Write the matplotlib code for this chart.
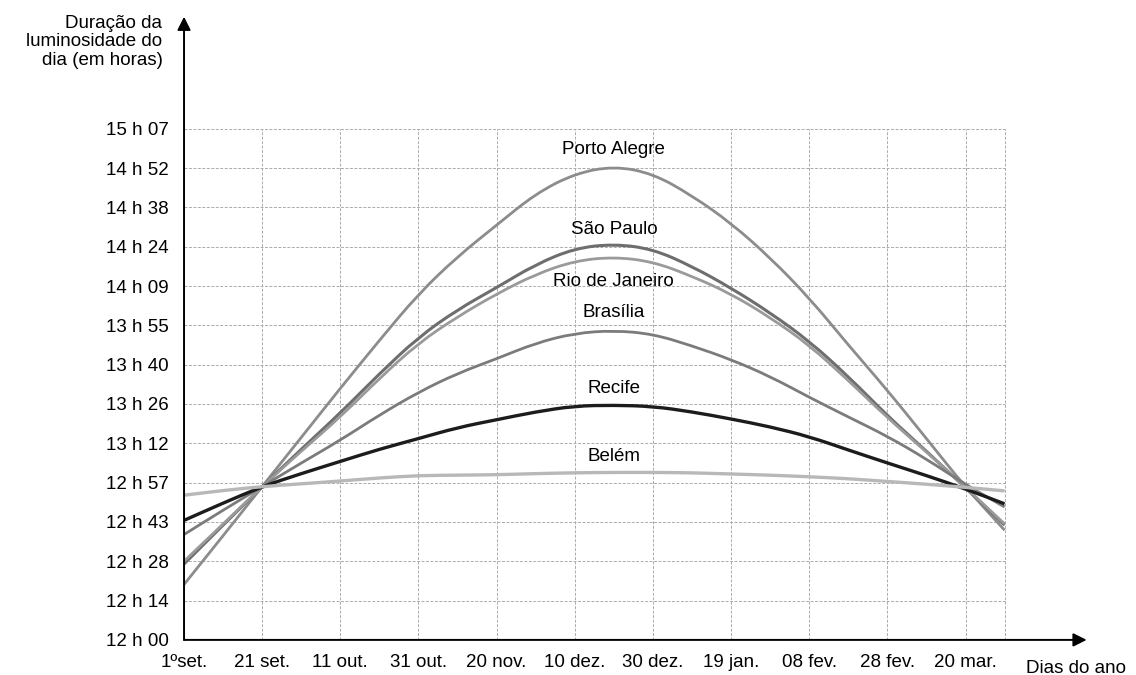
import matplotlib
matplotlib.use("Agg")
import matplotlib.pyplot as plt
from matplotlib.path import Path
from matplotlib.patches import PathPatch

plt.rcParams["font.family"] = ["Liberation Sans", "DejaVu Sans"]

# ── data (x: steps of 20 days from 1 set.; y: steps of the y grid) ───
x_days = [0, 0.5, 1, 1.5, 2, 2.5, 3, 3.5, 4, 4.5, 5, 5.5, 6, 6.5, 7, 7.5,
          8, 8.5, 9, 9.5, 10, 10.5]

porto_alegre = [1.41, 2.65, 3.9, 5.15, 6.4, 7.62, 8.8, 9.75, 10.55, 11.35,
                11.86, 12.05, 11.86, 11.3, 10.6, 9.72, 8.7, 7.5, 6.35, 5.12,
                3.88, 2.79]
sao_paulo = [1.93, 2.92, 3.9, 4.85, 5.77, 6.77, 7.7, 8.4, 8.96, 9.55,
             9.96, 10.07, 9.94, 9.5, 8.95, 8.32, 7.6, 6.7, 5.7, 4.8,
             3.87, 2.92]
rio_janeiro = [2.0, 2.95, 3.9, 4.8, 5.67, 6.65, 7.55, 8.22, 8.8, 9.3,
               9.64, 9.74, 9.62, 9.25, 8.8, 8.2, 7.5, 6.6, 5.65, 4.78,
               3.88, 2.95]
brasilia = [2.68, 3.3, 3.9, 4.5, 5.08, 5.72, 6.3, 6.78, 7.15, 7.55,
            7.8, 7.87, 7.78, 7.48, 7.13, 6.7, 6.17, 5.67, 5.18, 4.6,
            3.95, 3.38]
recife = [3.04, 3.48, 3.9, 4.23, 4.54, 4.85, 5.12, 5.4, 5.6, 5.8,
          5.95, 5.97, 5.94, 5.8, 5.62, 5.42, 5.17, 4.83, 4.5, 4.18,
          3.84, 3.46]
belem = [3.68, 3.8, 3.9, 3.97, 4.04, 4.12, 4.18, 4.19, 4.2, 4.23,
         4.25, 4.26, 4.26, 4.25, 4.22, 4.19, 4.15, 4.1, 4.03, 3.96,
         3.88, 3.79]

x_labels = ["1ºset.", "21 set.", "11 out.", "31 out.", "20 nov.", "10 dez.",
            "30 dez.", "19 jan.", "08 fev.", "28 fev.", "20 mar."]
y_labels = ["12 h 00", "12 h 14", "12 h 28", "12 h 43", "12 h 57", "13 h 12",
            "13 h 26", "13 h 40", "13 h 55", "14 h 09", "14 h 24", "14 h 38",
            "14 h 52", "15 h 07"]

# name, values, colour, width, label offset from peak
series = [
    ("Porto Alegre", porto_alegre, "#8c8c8c", 2.0, 0.42),
    ("São Paulo", sao_paulo, "#6e6e6e", 2.2, 0.36),
    ("Rio de Janeiro", rio_janeiro, "#9a9a9a", 2.0, -0.62),
    ("Brasília", brasilia, "#7b7b7b", 2.0, 0.45),
    ("Recife", recife, "#1c1c1c", 2.4, 0.42),
    ("Belém", belem, "#b8b8b8", 2.4, 0.40),
]

X_END = 10.5
Y_TOP = len(y_labels) - 1
FS = 13.5


def smooth_path(xs, ys):
    """Quadratic Bezier through segment midpoints (rounded corners)."""
    pts = list(zip(xs, ys))
    mids = [((a[0] + b[0]) / 2, (a[1] + b[1]) / 2) for a, b in zip(pts, pts[1:])]
    verts = [pts[0], mids[0]]
    codes = [Path.MOVETO, Path.LINETO]
    for i in range(1, len(pts) - 1):
        verts += [pts[i], mids[i]]
        codes += [Path.CURVE3, Path.CURVE3]
    verts.append(pts[-1])
    codes.append(Path.LINETO)
    return Path(verts, codes)


# ── figure ───────────────────────────────────────────────────────────
fig = plt.figure(figsize=(11.36, 6.75), dpi=100)
ax = fig.add_axes([0.162, 0.052, 0.798, 0.932])
ax.set_xlim(0, 11.6)
ax.set_ylim(0, 16)
for sp in ax.spines.values():
    sp.set_visible(False)

# grid (dashed, only inside the chart box)
grid_kw = dict(color="#ababab", lw=0.7, linestyles=(0, (3, 1.6)), zorder=1)
ax.vlines([i for i in range(1, 11)] + [X_END], 0, Y_TOP, **grid_kw)
ax.hlines(range(1, Y_TOP + 1), 0, X_END, **grid_kw)

# curves
for name, vals, color, lw, dy in series:
    ax.add_patch(PathPatch(smooth_path(x_days, vals), fill=False,
                           edgecolor=color, lw=lw, capstyle="butt", zorder=3))
    peak_i = vals.index(max(vals))
    ax.text(x_days[peak_i], max(vals) + dy, name, ha="center", va="center",
            fontsize=FS, color="black", zorder=4)

# axes with arrows
arrow = dict(arrowstyle="-|>", color="black", lw=1.4, mutation_scale=20,
             shrinkA=0, shrinkB=0)
ax.annotate("", xy=(11.55, 0), xytext=(0, 0), arrowprops=arrow, zorder=5,
            annotation_clip=False)
ax.annotate("", xy=(0, 15.85), xytext=(0, 0), arrowprops=arrow, zorder=5,
            annotation_clip=False)

ax.set_xticks(range(len(x_labels)))
ax.set_xticklabels(x_labels, fontsize=FS)
ax.set_yticks(range(len(y_labels)))
ax.set_yticklabels(y_labels, fontsize=FS)
ax.tick_params(axis="both", length=0)
ax.tick_params(axis="y", pad=11)
ax.tick_params(axis="x", pad=10)

ax.text(10.77, -0.72, "Dias do ano", ha="left", va="center", fontsize=FS,
        clip_on=False)
fig.text(0.143, 0.978, "Duração da\nluminosidade do\ndia (em horas)",
         ha="right", va="top", fontsize=FS, linespacing=1.12)

fig.savefig("out.png", dpi=100)
